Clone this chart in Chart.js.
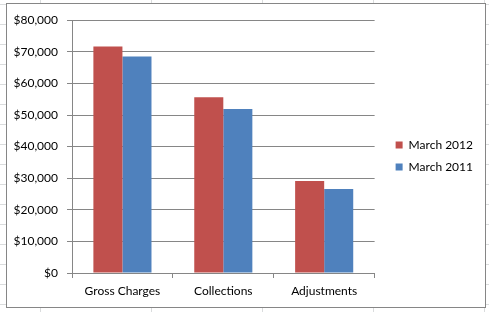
<!DOCTYPE html>
<html>
<head>
<meta charset="utf-8">
<script src="https://cdn.jsdelivr.net/npm/chart.js@4.4.0/dist/chart.umd.min.js"></script>
<style>
  html, body { margin: 0; padding: 0; }
  body {
    width: 489px; height: 312px; overflow: hidden; position: relative;
    background-color: #fff;
    background-image:
      linear-gradient(to right, #dadcdd 1px, transparent 1px),
      linear-gradient(to bottom, #dadcdd 1px, transparent 1px);
    background-size: 111px 20px;
    background-position: 40px 4px;
  }
  #box {
    position: absolute; left: 6px; top: 3px;
    width: 478px; height: 303px;
    border: 1px solid #868686;
    background: #fff;
  }
  #box canvas { display: block; }
</style>
</head>
<body>
<div id="box"><canvas id="chart" width="478" height="303"></canvas></div>
<script>
// data
const categories = ['Gross Charges', 'Collections', 'Adjustments'];
const march2012 = [71700, 55600, 29100];
const march2011 = [68500, 51900, 26600];
const seriesNames = ['March 2012', 'March 2011'];
const yMin = 0, yMax = 80000, yStep = 10000;

const axisGray = '#868686';
const font = { family: 'Lato, Calibri, sans-serif', size: 12 };

// nudge the legend to where Excel put it
const legendShift = {
    id: 'legendShift',
    afterLayout(chart) {
        const lg = chart.legend;
        if (!lg) return;
        lg.left += 11; lg.right += 11;
        lg.top -= 6; lg.bottom -= 6;
    }
};

new Chart(document.getElementById('chart'), {
    type: 'bar',
    data: {
        labels: categories,
        datasets: [
            { label: seriesNames[0], data: march2012, backgroundColor: '#C0504D' },
            { label: seriesNames[1], data: march2011, backgroundColor: '#4F81BD' }
        ]
    },
    options: {
        responsive: false,
        animation: false,
        events: [],
        categoryPercentage: 0.576,
        barPercentage: 1,
        layout: { padding: { top: 13, left: 0, right: 13, bottom: 0 } },
        scales: {
            x: {
                grid: { drawOnChartArea: false, tickLength: 5, color: axisGray },
                border: { color: axisGray },
                ticks: { color: '#000', font: font, padding: 6, maxRotation: 0 },
                afterFit: s => { s.height = 34; }
            },
            y: {
                min: yMin, max: yMax,
                grid: { color: axisGray, tickLength: 5 },
                border: { color: axisGray },
                ticks: {
                    stepSize: yStep, color: '#000', font: font, padding: 9,
                    callback: v => '$' + v.toLocaleString('en-US')
                },
                afterFit: s => { s.width = 65; }
            }
        },
        plugins: {
            legend: {
                position: 'right',
                labels: { boxWidth: 7, boxHeight: 7, color: '#000', font: font, padding: 10 }
            },
            tooltip: { enabled: false }
        }
    },
    plugins: [legendShift]
});
</script>
</body>
</html>
